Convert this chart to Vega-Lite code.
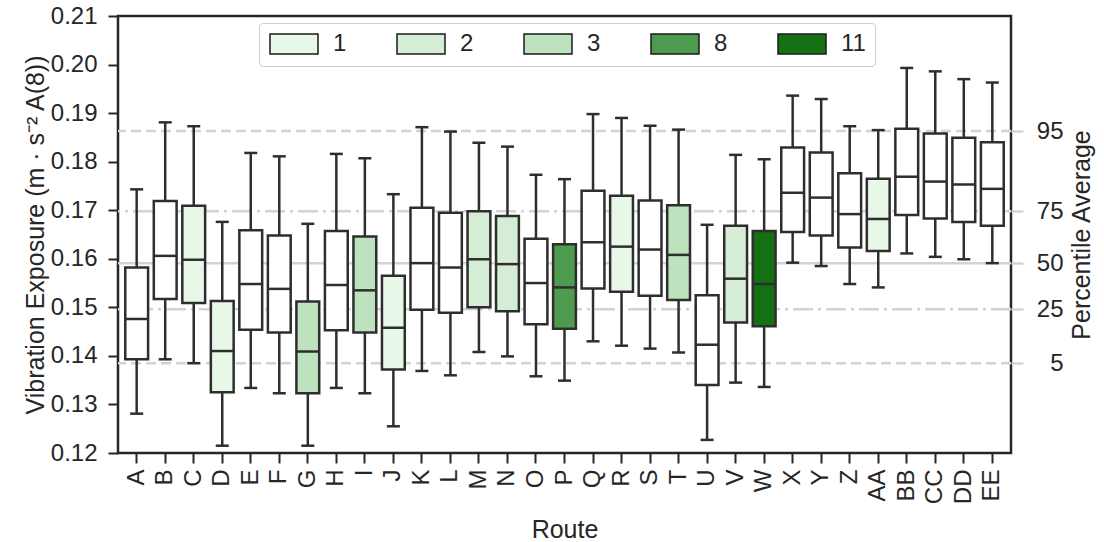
{
  "$schema": "https://vega.github.io/schema/vega-lite/v6.json",
  "autosize": "none",
  "width": 893,
  "height": 437,
  "padding": {"left": 118, "top": 16, "right": 93, "bottom": 89},
  "background": "white",
  "datasets": {
    "boxes": [
      {"route": "A", "group": null, "low": 0.1281, "q1": 0.1393, "median": 0.1476, "q3": 0.1582, "high": 0.1743},
      {"route": "B", "group": null, "low": 0.1393, "q1": 0.1517, "median": 0.1606, "q3": 0.1719, "high": 0.1881},
      {"route": "C", "group": "1", "low": 0.1385, "q1": 0.1509, "median": 0.1598, "q3": 0.1709, "high": 0.1873},
      {"route": "D", "group": "1", "low": 0.1215, "q1": 0.1325, "median": 0.1410, "q3": 0.1513, "high": 0.1676},
      {"route": "E", "group": null, "low": 0.1334, "q1": 0.1454, "median": 0.1548, "q3": 0.1659, "high": 0.1818},
      {"route": "F", "group": null, "low": 0.1323, "q1": 0.1448, "median": 0.1538, "q3": 0.1648, "high": 0.1811},
      {"route": "G", "group": "3", "low": 0.1215, "q1": 0.1323, "median": 0.1409, "q3": 0.1512, "high": 0.1672},
      {"route": "H", "group": null, "low": 0.1334, "q1": 0.1453, "median": 0.1546, "q3": 0.1657, "high": 0.1816},
      {"route": "I", "group": "3", "low": 0.1323, "q1": 0.1448, "median": 0.1535, "q3": 0.1646, "high": 0.1807},
      {"route": "J", "group": "1", "low": 0.1255, "q1": 0.1372, "median": 0.1458, "q3": 0.1565, "high": 0.1733},
      {"route": "K", "group": null, "low": 0.1369, "q1": 0.1495, "median": 0.1591, "q3": 0.1705, "high": 0.1871},
      {"route": "L", "group": null, "low": 0.1360, "q1": 0.1489, "median": 0.1582, "q3": 0.1695, "high": 0.1862},
      {"route": "M", "group": "2", "low": 0.1408, "q1": 0.1500, "median": 0.1599, "q3": 0.1698, "high": 0.1839},
      {"route": "N", "group": "2", "low": 0.1399, "q1": 0.1492, "median": 0.1589, "q3": 0.1688, "high": 0.1831},
      {"route": "O", "group": null, "low": 0.1358, "q1": 0.1465, "median": 0.1550, "q3": 0.1641, "high": 0.1773},
      {"route": "P", "group": "8", "low": 0.1349, "q1": 0.1456, "median": 0.1541, "q3": 0.1630, "high": 0.1764},
      {"route": "Q", "group": null, "low": 0.1430, "q1": 0.1539, "median": 0.1634, "q3": 0.1740, "high": 0.1898},
      {"route": "R", "group": "1", "low": 0.1421, "q1": 0.1532, "median": 0.1625, "q3": 0.1730, "high": 0.1890},
      {"route": "S", "group": null, "low": 0.1415, "q1": 0.1524, "median": 0.1619, "q3": 0.1720, "high": 0.1874},
      {"route": "T", "group": "3", "low": 0.1407, "q1": 0.1515, "median": 0.1608, "q3": 0.1710, "high": 0.1866},
      {"route": "U", "group": null, "low": 0.1227, "q1": 0.1340, "median": 0.1423, "q3": 0.1525, "high": 0.1670},
      {"route": "V", "group": "2", "low": 0.1345, "q1": 0.1469, "median": 0.1559, "q3": 0.1668, "high": 0.1814},
      {"route": "W", "group": "11", "low": 0.1336, "q1": 0.1461, "median": 0.1548, "q3": 0.1657, "high": 0.1805},
      {"route": "X", "group": null, "low": 0.1592, "q1": 0.1655, "median": 0.1736, "q3": 0.1829, "high": 0.1936},
      {"route": "Y", "group": null, "low": 0.1585, "q1": 0.1648, "median": 0.1726, "q3": 0.1819, "high": 0.1929},
      {"route": "Z", "group": null, "low": 0.1548, "q1": 0.1623, "median": 0.1692, "q3": 0.1776, "high": 0.1873},
      {"route": "AA", "group": "1", "low": 0.1541, "q1": 0.1616, "median": 0.1682, "q3": 0.1765, "high": 0.1865},
      {"route": "BB", "group": null, "low": 0.1611, "q1": 0.1690, "median": 0.1769, "q3": 0.1868, "high": 0.1993},
      {"route": "CC", "group": null, "low": 0.1604, "q1": 0.1683, "median": 0.1759, "q3": 0.1858, "high": 0.1986},
      {"route": "DD", "group": null, "low": 0.1599, "q1": 0.1676, "median": 0.1753, "q3": 0.1849, "high": 0.1970},
      {"route": "EE", "group": null, "low": 0.1591, "q1": 0.1668, "median": 0.1744, "q3": 0.1840, "high": 0.1963}
    ],
    "percentiles": [
      {"percentile": "5", "value": 0.1385},
      {"percentile": "25", "value": 0.1496},
      {"percentile": "50", "value": 0.1591},
      {"percentile": "75", "value": 0.1698},
      {"percentile": "95", "value": 0.1863}
    ]
  },
  "layer": [
    {
      "data": {"name": "percentiles"},
      "mark": {"type": "rule", "color": "#d3d3d3", "strokeWidth": 2.5},
      "encoding": {
        "y": {
          "field": "value", "type": "quantitative",
          "scale": {"domain": [0.12, 0.21], "nice": false, "zero": false},
          "axis": {
            "orient": "right",
            "title": "Percentile Average",
            "titleAngle": 270,
            "values": [0.1385, 0.1496, 0.1591, 0.1698, 0.1863],
            "labelExpr": "datum.value < 0.14 ? '5' : datum.value < 0.155 ? '25' : datum.value < 0.165 ? '50' : datum.value < 0.18 ? '75' : '95'",
            "tickColor": "#d3d3d3", "tickWidth": 2.5, "tickSize": 12,
            "labelAlign": "right", "labelPadding": 40,
            "titlePadding": 31
          }
        },
        "strokeDash": {
          "field": "percentile", "type": "nominal",
          "scale": {"domain": ["5", "25", "50", "75", "95"], "range": [[10, 5], [20, 5, 3, 5], [1, 0], [20, 5, 3, 5], [10, 5]]},
          "legend": null
        }
      }
    },
    {
      "data": {"name": "boxes"},
      "encoding": {
        "x": {
          "field": "route", "type": "nominal", "sort": null,
          "scale": {"paddingInner": 0, "paddingOuter": 0.155},
          "axis": {"title": "Route", "labelAngle": -90, "labelPadding": 6, "titlePadding": 14}
        }
      },
      "layer": [
        {
          "mark": {"type": "rule", "color": "#2e2e2e", "strokeWidth": 2.5},
          "encoding": {
            "y": {
              "field": "low", "type": "quantitative",
              "scale": {"domain": [0.12, 0.21], "nice": false, "zero": false},
              "axis": {
                "orient": "left",
                "title": "Vibration Exposure (m · s⁻²  A(8))",
                "values": [0.12, 0.13, 0.14, 0.15, 0.16, 0.17, 0.18, 0.19, 0.20, 0.21],
                "format": ".2f",
                "labelPadding": 11,
                "titlePadding": 2
              }
            },
            "y2": {"field": "high"}
          }
        },
        {
          "mark": {"type": "tick", "color": "#2e2e2e", "opacity": 1, "thickness": 2.5, "size": 13},
          "encoding": {"y": {"field": "low", "type": "quantitative"}}
        },
        {
          "mark": {"type": "tick", "color": "#2e2e2e", "opacity": 1, "thickness": 2.5, "size": 13},
          "encoding": {"y": {"field": "high", "type": "quantitative"}}
        },
        {
          "mark": {"type": "bar", "stroke": "#2e2e2e", "strokeWidth": 2.5, "opacity": 1, "width": {"band": 0.8}},
          "encoding": {
            "y": {"field": "q1", "type": "quantitative"},
            "y2": {"field": "q3"},
            "fill": {
              "field": "group", "type": "nominal",
              "scale": {"domain": ["1", "2", "3", "8", "11"], "range": ["#e8f8e8", "#d4edd4", "#bde2bd", "#4e9a4e", "#137013"]},
              "condition": {"test": "!datum.group", "value": "white"},
              "legend": {
                "title": null,
                "orient": "none",
                "legendX": 141,
                "legendY": 7,
                "direction": "horizontal",
                "columns": 5,
                "columnPadding": 47,
                "symbolType": "M-2.4,-1L2.4,-1L2.4,1L-2.4,1Z",
                "symbolSize": 400,
                "symbolOffset": 14,
                "symbolStrokeColor": "#1a1a1a",
                "symbolStrokeWidth": 1.5,
                "symbolOpacity": 1,
                "labelFontSize": 24,
                "labelColor": "#262626",
                "labelOffset": 27,
                "padding": 9,
                "strokeColor": "#cccccc",
                "fillColor": "white",
                "cornerRadius": 4
              }
            }
          }
        },
        {
          "mark": {"type": "tick", "color": "#2e2e2e", "opacity": 1, "thickness": 2.5, "size": 23},
          "encoding": {"y": {"field": "median", "type": "quantitative"}}
        }
      ]
    }
  ],
  "resolve": {"scale": {"y": "independent"}, "axis": {"y": "independent"}},
  "config": {
    "font": "Liberation Sans",
    "view": {"stroke": "#262626", "strokeWidth": 2.5},
    "axis": {
      "domain": false,
      "grid": false,
      "labelFontSize": 24,
      "labelColor": "#262626",
      "titleFontSize": 25,
      "titleFontWeight": "normal",
      "titleColor": "#262626",
      "tickColor": "#262626",
      "tickWidth": 2,
      "tickSize": 10
    }
  }
}
